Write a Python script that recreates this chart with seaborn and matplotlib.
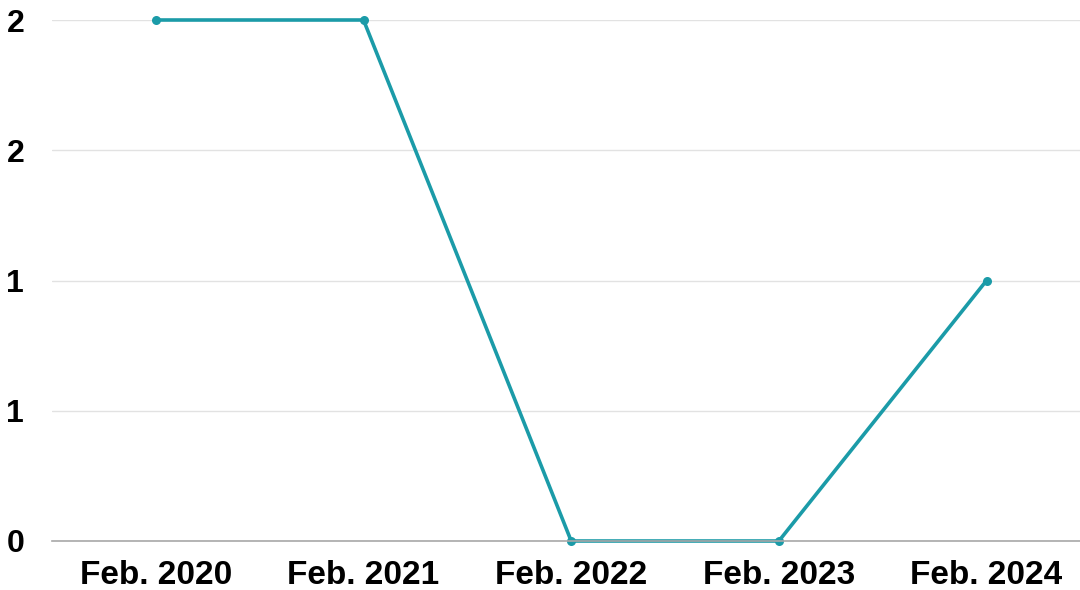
import matplotlib
matplotlib.use("Agg")
import matplotlib.pyplot as plt
import seaborn as sns
import pandas as pd

periods = ["Feb. 2020", "Feb. 2021", "Feb. 2022", "Feb. 2023", "Feb. 2024"]
values = [2, 2, 0, 0, 1]
y_ticks = [0, 0.5, 1.0, 1.5, 2.0]
y_labels = ["0", "1", "1", "2", "2"]

sns.set_style("white")
plt.rcParams["font.family"] = ["Liberation Sans", "DejaVu Sans"]

df = pd.DataFrame({"period": periods, "value": values, "x": range(len(periods))})

fig = plt.figure(figsize=(10.8, 5.9), dpi=100)
ax = fig.add_axes([52 / 1080, 1 - 541 / 590, 1 - 52 / 1080, (541 - 20) / 590])

sns.lineplot(data=df, x="x", y="value", ax=ax, color="#1b9ba8", linewidth=2.6,
             marker="o", markersize=6.5, markeredgewidth=0, clip_on=False)

ax.set_xlim(-0.5, 4.45)
ax.set_ylim(0, 2)
ax.set_yticks(y_ticks)
ax.set_yticklabels(y_labels, fontsize=23, fontweight="bold", color="black")
ax.set_xticks(range(len(periods)))
ax.set_xticklabels(periods, fontsize=24, fontweight="bold", color="black")
ax.tick_params(axis="both", length=0)
ax.tick_params(axis="y", pad=20)
ax.tick_params(axis="x", pad=14)
ax.set_xlabel("")
ax.set_ylabel("")

for s in ["top", "right", "left"]:
    ax.spines[s].set_visible(False)
ax.spines["bottom"].set_color("#a8a8a8")
ax.spines["bottom"].set_linewidth(1.2)

ax.yaxis.grid(True, color="#e2e2e2", linewidth=1)
ax.set_axisbelow(True)

fig.savefig("out.png", dpi=100)
